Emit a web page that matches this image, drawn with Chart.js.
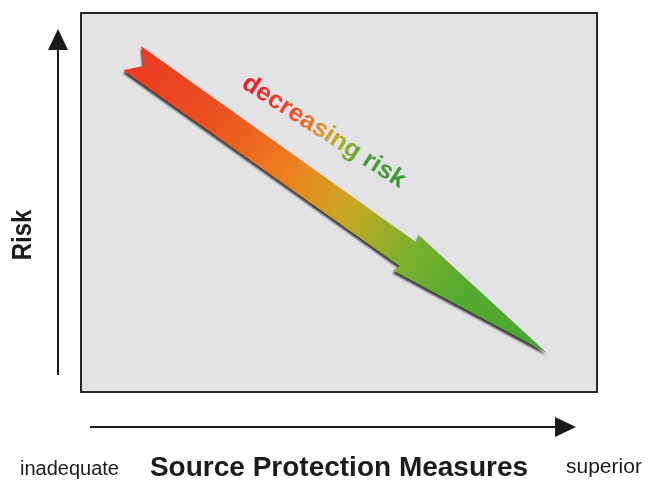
<!DOCTYPE html>
<html lang="en">
<head>
<meta charset="UTF-8">
<title>Source Protection Measures vs Risk</title>
<script src="https://cdn.jsdelivr.net/npm/chart.js"></script>
<style>
    body { margin: 0; background: #ffffff; }
    #wrap { width: 649px; height: 489px; }
</style>
</head>
<body>
<div id="wrap"><canvas id="grafico"></canvas></div>
<script>
// axis ranges (conceptual scale 0..10)
const xRange = [0, 10];
const riskRange = [0, 10];
// the "decreasing risk" arrow: start and end in data units
const arrowX = [1.0, 9.03];
const arrowRisk = [8.8, 1.03];
const arrowLabel = "decreasing risk";
const xTitle = "Source Protection Measures";
const yTitle = "Risk";
const xEndLabels = ["inadequate", "superior"];

const ink = "#1b1b1b";

function arrowHead(ctx, x, y, ang, len, half) {
    ctx.save();
    ctx.translate(x, y);
    ctx.rotate(ang);
    ctx.beginPath();
    ctx.moveTo(0, 0);
    ctx.lineTo(-len, -half);
    ctx.lineTo(-len, half);
    ctx.closePath();
    ctx.fill();
    ctx.restore();
}

const diagram = {
    id: "diagram",
    beforeDraw(chart) {
        const { ctx, chartArea: a } = chart;
        ctx.save();
        ctx.fillStyle = "#e3e3e6";
        ctx.fillRect(a.left, a.top, a.right - a.left, a.bottom - a.top);
        ctx.restore();
    },
    afterDatasetsDraw(chart) {
        const { ctx } = chart;
        const pts = chart.getDatasetMeta(0).data;
        const p0 = pts[0], p1 = pts[1];
        const L = Math.hypot(p1.x - p0.x, p1.y - p0.y);
        const ang = Math.atan2(p1.y - p0.y, p1.x - p0.x);
        const hs = L * 0.665;

        ctx.save();
        ctx.translate(p0.x, p0.y);
        ctx.rotate(ang);
        const shape = () => {
            ctx.beginPath();
            ctx.moveTo(0, -15);
            ctx.lineTo(hs, -14.5);
            ctx.lineTo(hs - 3, -22);
            ctx.lineTo(L, 0);
            ctx.lineTo(hs - 3, 22);
            ctx.lineTo(hs, 14.5);
            ctx.lineTo(-1, 15);
            ctx.lineTo(13, 0);
            ctx.closePath();
        };
        // dark edge under the arrow
        ctx.save();
        ctx.translate(1, 2.5);
        ctx.filter = "blur(1px)";
        ctx.fillStyle = "rgba(25,20,20,0.85)";
        shape();
        ctx.fill();
        ctx.restore();

        const g = ctx.createLinearGradient(0, 0, L, 0);
        g.addColorStop(0, "#ea3a22");
        g.addColorStop(0.2, "#ea521f");
        g.addColorStop(0.38, "#ec801e");
        g.addColorStop(0.52, "#c8a824");
        g.addColorStop(0.66, "#7cb02c");
        g.addColorStop(0.8, "#55ab30");
        g.addColorStop(1, "#4aa534");
        ctx.fillStyle = g;
        shape();
        ctx.fill();

        // label along the arrow
        ctx.save();
        ctx.translate(L * 0.39, -51);
        ctx.rotate(-0.05);
        ctx.scale(1.03, 1);
        ctx.font = 'bold 25px "Liberation Sans", Arial, sans-serif';
        ctx.textAlign = "center";
        ctx.textBaseline = "middle";
        const w = ctx.measureText(arrowLabel).width;
        const tg = ctx.createLinearGradient(-w / 2, 0, w / 2, 0);
        tg.addColorStop(0, "#e81c2c");
        tg.addColorStop(0.3, "#ec4a26");
        tg.addColorStop(0.5, "#e09a22");
        tg.addColorStop(0.62, "#9ab82a");
        tg.addColorStop(0.75, "#4a9e36");
        tg.addColorStop(1, "#3c9838");
        ctx.fillStyle = tg;
        ctx.fillText(arrowLabel, 0, 0);
        ctx.restore();
        ctx.restore();
    },
    afterDraw(chart) {
        const { ctx, chartArea: a } = chart;
        ctx.save();
        // plot frame
        ctx.strokeStyle = "#262626";
        ctx.lineWidth = 2;
        ctx.strokeRect(a.left, a.top, a.right - a.left, a.bottom - a.top);

        // axis arrows
        ctx.strokeStyle = ink;
        ctx.fillStyle = ink;
        ctx.lineWidth = 2;
        const vx = a.left - 23;
        ctx.beginPath();
        ctx.moveTo(vx, a.bottom - 17);
        ctx.lineTo(vx, a.top + 36);
        ctx.stroke();
        arrowHead(ctx, vx, a.top + 16, -Math.PI / 2, 21, 10);

        const hy = a.bottom + 35;
        ctx.beginPath();
        ctx.moveTo(a.left + 9, hy);
        ctx.lineTo(a.right - 40, hy);
        ctx.stroke();
        arrowHead(ctx, a.right - 21, hy, 0, 21, 10);

        // y title, rotated
        ctx.save();
        ctx.translate(23, 235);
        ctx.rotate(-Math.PI / 2);
        ctx.scale(1, 1.15);
        ctx.font = 'bold 24px "Liberation Sans", Arial, sans-serif';
        ctx.textAlign = "center";
        ctx.textBaseline = "middle";
        ctx.fillText(yTitle, 0, 0);
        ctx.restore();

        // end labels of the x axis
        ctx.font = '20px "Liberation Sans", Arial, sans-serif';
        ctx.textBaseline = "alphabetic";
        ctx.textAlign = "left";
        ctx.fillText(xEndLabels[0], 20, 475);
        ctx.font = '21px "Liberation Sans", Arial, sans-serif';
        ctx.fillText(xEndLabels[1], 566, 473);
        ctx.restore();
    }
};

new Chart(document.getElementById("grafico"), {
    type: "line",
    data: {
        datasets: [{
            data: arrowX.map((x, i) => ({ x: x, y: arrowRisk[i] })),
            showLine: false,
            pointRadius: 0,
            pointHoverRadius: 0
        }]
    },
    options: {
        responsive: true,
        maintainAspectRatio: false,
        animation: false,
        events: [],
        layout: { padding: { left: 81, top: 13, right: 52, bottom: 0 } },
        plugins: { legend: { display: false }, tooltip: { enabled: false } },
        scales: {
            x: {
                type: "linear",
                min: xRange[0],
                max: xRange[1],
                ticks: { display: false },
                grid: { display: false, drawTicks: false },
                border: { display: false },
                title: {
                    display: true,
                    text: xTitle,
                    color: ink,
                    font: { family: '"Liberation Sans", Arial, sans-serif', size: 28, weight: "bold" },
                    padding: { top: 59.4, bottom: 4 }
                }
            },
            y: {
                type: "linear",
                min: riskRange[0],
                max: riskRange[1],
                display: false
            }
        }
    },
    plugins: [diagram]
});
</script>
</body>
</html>
